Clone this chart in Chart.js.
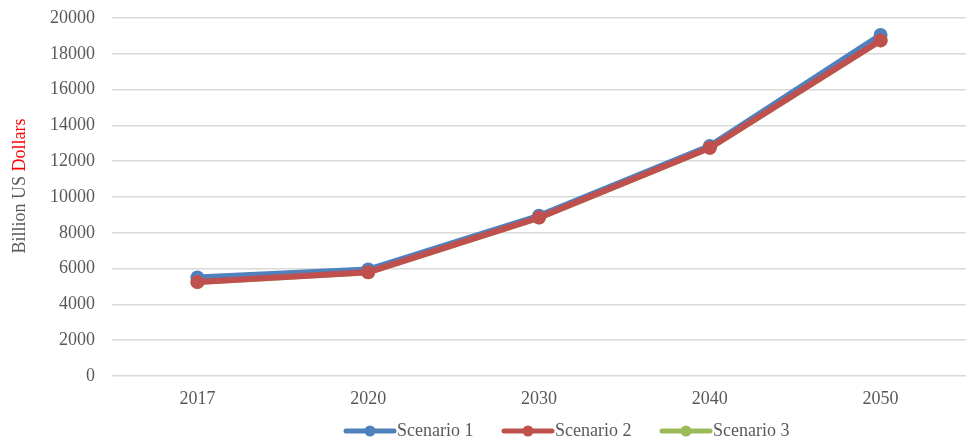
<!DOCTYPE html>
<html><head><meta charset="utf-8">
<script src="https://cdn.jsdelivr.net/npm/chart.js@4/dist/chart.umd.min.js"></script>
<style>html,body{margin:0;padding:0;background:#fff}#wrap{width:973px;height:440px;position:relative}</style>
</head><body><div id="wrap"><canvas id="c" width="973" height="440"></canvas></div>
<script>
const categories = ['2017', '2020', '2030', '2040', '2050'];
const scenario1 = [5500, 5950, 8950, 12850, 19050];
const scenario2 = [5250, 5800, 8850, 12750, 18750];
const scenario3 = [5250, 5800, 8850, 12750, 18750];
const seriesNames = ['Scenario 1', 'Scenario 2', 'Scenario 3'];
const colors = ['#4F81BD', '#C0504D', '#9BBB59'];
const FONT = "'Liberation Serif', 'Times New Roman', serif";

const yTitlePlugin = {
  id: 'yTitle',
  afterDraw(chart) {
    const ctx = chart.ctx;
    ctx.save();
    ctx.font = '18px ' + FONT;
    const a = 'Billion US ', b = 'Dollars';
    const wa = ctx.measureText(a).width, wb = ctx.measureText(b).width;
    ctx.translate(20, 186);
    ctx.rotate(-Math.PI / 2);
    ctx.textBaseline = 'middle';
    ctx.textAlign = 'left';
    const start = -(wa + wb) / 2;
    ctx.fillStyle = '#595959';
    ctx.fillText(a, start, 0);
    ctx.fillStyle = '#FF0000';
    ctx.fillText(b, start + wa, 0);
    ctx.restore();
  }
};

const legendPlugin = {
  id: 'customLegend',
  afterDraw(chart) {
    const ctx = chart.ctx;
    ctx.save();
    ctx.font = '18px ' + FONT;
    ctx.textBaseline = 'middle';
    ctx.textAlign = 'left';
    const y = 431;
    let x = 346;
    chart.data.datasets.forEach((ds, i) => {
      const c = ds.borderColor;
      ctx.strokeStyle = c; ctx.lineWidth = 5; ctx.lineCap = 'round';
      ctx.beginPath(); ctx.moveTo(x, y); ctx.lineTo(x + 48, y); ctx.stroke();
      ctx.fillStyle = c; ctx.beginPath(); ctx.arc(x + 24, y, 5.5, 0, Math.PI * 2); ctx.fill();
      ctx.fillStyle = '#595959';
      ctx.fillText(ds.label, x + 51, y);
      x += 158;
    });
    ctx.restore();
  }
};

const data = [scenario1, scenario2, scenario3];
new Chart(document.getElementById('c'), {
  type: 'line',
  data: {
    labels: categories,
    datasets: data.map((d, i) => ({
      label: seriesNames[i],
      data: d,
      borderColor: colors[i],
      backgroundColor: colors[i],
      borderWidth: 6,
      pointRadius: 7,
      pointHoverRadius: 7,
      pointBackgroundColor: colors[i],
      pointBorderWidth: 0,
      tension: 0,
      order: [1, 0, 2][i],
      pointStyle: 'circle'
    }))
  },
  options: {
    responsive: false,
    animation: false,
    devicePixelRatio: 1,
    layout: { padding: { top: 18, right: 2, left: 0, bottom: 30 } },
    plugins: {
      tooltip: { enabled: false },
      legend: { display: false }
    },
    scales: {
      x: {
        offset: true,
        grid: { display: false, drawTicks: false, offset: true },
        border: { display: false },
        ticks: { font: { family: FONT, size: 18 }, color: '#595959', padding: 12, maxRotation: 0 },
        afterFit(s) { s.height = 34; }
      },
      y: {
        min: 0, max: 20000,
        ticks: { stepSize: 2000, font: { family: FONT, size: 18, lineHeight: 0.2 }, color: '#595959', padding: 17,
                 callback: v => String(v) },
        grid: { color: '#D9D9D9', lineWidth: 1.5, drawTicks: false },
        border: { display: false },
        afterFit(s) { s.width = 112; s.paddingTop = 0; }
      }
    }
  },
  plugins: [yTitlePlugin, legendPlugin]
});
</script>
</body></html>
